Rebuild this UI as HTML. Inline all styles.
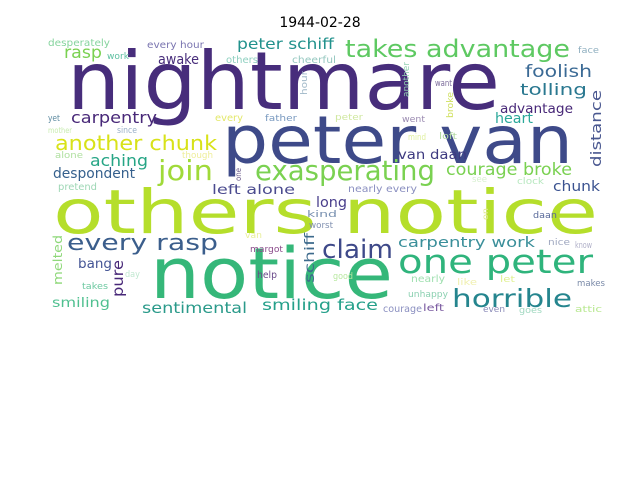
<!DOCTYPE html>
<html><head><meta charset="utf-8"><style>
html,body{margin:0;padding:0;background:#fff;}
svg{display:block;}
text{font-family:"DejaVu Sans","Liberation Sans",sans-serif;}
</style></head><body>
<svg width="640" height="480" viewBox="0 0 640 480">
<rect x="0" y="0" width="640" height="480" fill="#fff"/>
<text x="320" y="27" text-anchor="middle" font-size="14" fill="#000">1944-02-28</text>
<g lengthAdjust="spacingAndGlyphs">
<text x="67" y="109" font-size="80" textLength="433" lengthAdjust="spacingAndGlyphs" fill="#472d7b">nightmare</text>
<text x="222" y="163" font-size="66" textLength="351" lengthAdjust="spacingAndGlyphs" fill="#3e4a89">peter van</text>
<text x="53" y="233" font-size="61" textLength="545" lengthAdjust="spacingAndGlyphs" fill="#b5de2b">others notice</text>
<text x="150" y="298" font-size="70" textLength="243" lengthAdjust="spacingAndGlyphs" fill="#35b779">notice</text>
<text x="345" y="57" font-size="24" textLength="225" lengthAdjust="spacingAndGlyphs" fill="#5ec962">takes advantage</text>
<text x="158" y="180" font-size="28" textLength="55" lengthAdjust="spacingAndGlyphs" fill="#a0da39">join</text>
<text x="255" y="180" font-size="28" textLength="180" lengthAdjust="spacingAndGlyphs" fill="#7ad151">exasperating</text>
<text x="55" y="150" font-size="20" textLength="162" lengthAdjust="spacingAndGlyphs" fill="#d8e219">another chunk</text>
<text x="67" y="250" font-size="22" textLength="151" lengthAdjust="spacingAndGlyphs" fill="#3b5e8c">every rasp</text>
<text x="322" y="258" font-size="26" textLength="71" lengthAdjust="spacingAndGlyphs" fill="#3e4989">claim</text>
<text x="398" y="273" font-size="33" textLength="195" lengthAdjust="spacingAndGlyphs" fill="#2fb47c">one peter</text>
<text x="452" y="307" font-size="25" textLength="120" lengthAdjust="spacingAndGlyphs" fill="#25858e">horrible</text>
<text x="71" y="123" font-size="16" textLength="86" lengthAdjust="spacingAndGlyphs" fill="#482878">carpentry</text>
<text x="90" y="166" font-size="16" textLength="58" lengthAdjust="spacingAndGlyphs" fill="#26a585">aching</text>
<text x="53" y="178" font-size="14" textLength="82" lengthAdjust="spacingAndGlyphs" fill="#35608d">despondent</text>
<text x="64" y="58" font-size="17" textLength="38" lengthAdjust="spacingAndGlyphs" fill="#7ad151">rasp</text>
<text x="237" y="49" font-size="15" textLength="97" lengthAdjust="spacingAndGlyphs" fill="#21918c">peter schiff</text>
<text x="158" y="64" font-size="14" textLength="41" lengthAdjust="spacingAndGlyphs" fill="#472c7a">awake</text>
<text x="147" y="48" font-size="10" textLength="57" lengthAdjust="spacingAndGlyphs" fill="#7a75b0">every hour</text>
<text x="48" y="46" font-size="10" textLength="62" lengthAdjust="spacingAndGlyphs" fill="#86d49e">desperately</text>
<text x="107" y="59" font-size="9" textLength="22" lengthAdjust="spacingAndGlyphs" fill="#5cbfa0">work</text>
<text x="226" y="63" font-size="10" textLength="32" lengthAdjust="spacingAndGlyphs" fill="#8fd0c0">others</text>
<text x="292" y="63" font-size="10" textLength="44" lengthAdjust="spacingAndGlyphs" fill="#96c8c0">cheerful</text>
<text x="48" y="121" font-size="9" textLength="12" lengthAdjust="spacingAndGlyphs" fill="#5c8aa0">yet</text>
<text x="215" y="121" font-size="10" textLength="28" lengthAdjust="spacingAndGlyphs" fill="#e3e86a">every</text>
<text x="265" y="121" font-size="9" textLength="32" lengthAdjust="spacingAndGlyphs" fill="#7a9ac0">father</text>
<text x="48" y="133" font-size="8" textLength="24" lengthAdjust="spacingAndGlyphs" fill="#c8ecb0">mother</text>
<text x="117" y="133" font-size="9" textLength="20" lengthAdjust="spacingAndGlyphs" fill="#9ab0c8">since</text>
<text x="55" y="158" font-size="9" textLength="28" lengthAdjust="spacingAndGlyphs" fill="#b0e0a0">alone</text>
<text x="182" y="158" font-size="9" textLength="31" lengthAdjust="spacingAndGlyphs" fill="#eeee9a">though</text>
<text x="58" y="190" font-size="10" textLength="39" lengthAdjust="spacingAndGlyphs" fill="#9ed7b5">pretend</text>
<text x="212" y="194" font-size="13" textLength="83" lengthAdjust="spacingAndGlyphs" fill="#4b4b8f">left alone</text>
<text x="316" y="207" font-size="14" textLength="31" lengthAdjust="spacingAndGlyphs" fill="#483d8b">long</text>
<text x="307" y="217" font-size="9" textLength="30" lengthAdjust="spacingAndGlyphs" fill="#7890b0">kind</text>
<text x="309" y="228" font-size="9" textLength="24" lengthAdjust="spacingAndGlyphs" fill="#8090b0">worst</text>
<text x="245" y="238" font-size="9" textLength="17" lengthAdjust="spacingAndGlyphs" fill="#e8ef9a">van</text>
<text x="250" y="252" font-size="9" textLength="33" lengthAdjust="spacingAndGlyphs" fill="#8a4a8a">margot</text>
<text x="78" y="268" font-size="13" textLength="34" lengthAdjust="spacingAndGlyphs" fill="#445595">bang</text>
<text x="125" y="277" font-size="9" textLength="15" lengthAdjust="spacingAndGlyphs" fill="#c0e8d0">day</text>
<text x="257" y="278" font-size="10" textLength="20" lengthAdjust="spacingAndGlyphs" fill="#6a4a8a">help</text>
<text x="82" y="289" font-size="9" textLength="26" lengthAdjust="spacingAndGlyphs" fill="#6cc8a0">takes</text>
<text x="52" y="307" font-size="13" textLength="58" lengthAdjust="spacingAndGlyphs" fill="#50c090">smiling</text>
<text x="142" y="313" font-size="15" textLength="105" lengthAdjust="spacingAndGlyphs" fill="#2a9a8a">sentimental</text>
<text x="262" y="310" font-size="15" textLength="116" lengthAdjust="spacingAndGlyphs" fill="#25a08a">smiling face</text>
<text x="348" y="192" font-size="10" textLength="69" lengthAdjust="spacingAndGlyphs" fill="#8a8fc0">nearly every</text>
<text x="553" y="191" font-size="14" textLength="47" lengthAdjust="spacingAndGlyphs" fill="#3a5290">chunk</text>
<text x="533" y="218" font-size="9" textLength="24" lengthAdjust="spacingAndGlyphs" fill="#5a6a9a">daan</text>
<text x="398" y="247" font-size="14" textLength="137" lengthAdjust="spacingAndGlyphs" fill="#3a8f9a">carpentry work</text>
<text x="548" y="245" font-size="9" textLength="22" lengthAdjust="spacingAndGlyphs" fill="#a0a8c0">nice</text>
<text x="575" y="248" font-size="9" textLength="17" lengthAdjust="spacingAndGlyphs" fill="#b0b0c8">know</text>
<text x="333" y="279" font-size="9" textLength="20" lengthAdjust="spacingAndGlyphs" fill="#b8e8a0">good</text>
<text x="411" y="282" font-size="10" textLength="34" lengthAdjust="spacingAndGlyphs" fill="#a0e0b0">nearly</text>
<text x="457" y="285" font-size="9" textLength="20" lengthAdjust="spacingAndGlyphs" fill="#f0f0b0">like</text>
<text x="500" y="282" font-size="9" textLength="15" lengthAdjust="spacingAndGlyphs" fill="#e0f090">let</text>
<text x="577" y="286" font-size="9" textLength="28" lengthAdjust="spacingAndGlyphs" fill="#7a8aa8">makes</text>
<text x="408" y="297" font-size="9" textLength="40" lengthAdjust="spacingAndGlyphs" fill="#8ad0b0">unhappy</text>
<text x="383" y="312" font-size="10" textLength="39" lengthAdjust="spacingAndGlyphs" fill="#8a8fc0">courage</text>
<text x="423" y="311" font-size="10" textLength="21" lengthAdjust="spacingAndGlyphs" fill="#7a5aa0">left</text>
<text x="483" y="312" font-size="9" textLength="22" lengthAdjust="spacingAndGlyphs" fill="#8a8ab8">even</text>
<text x="519" y="313" font-size="9" textLength="23" lengthAdjust="spacingAndGlyphs" fill="#a0d8c0">goes</text>
<text x="575" y="312" font-size="9" textLength="27" lengthAdjust="spacingAndGlyphs" fill="#b8e890">attic</text>
<text x="578" y="53" font-size="9" textLength="21" lengthAdjust="spacingAndGlyphs" fill="#90b0c0">face</text>
<text x="525" y="77" font-size="17" textLength="67" lengthAdjust="spacingAndGlyphs" fill="#3b6a95">foolish</text>
<text x="520" y="95" font-size="16" textLength="67" lengthAdjust="spacingAndGlyphs" fill="#2a7890">tolling</text>
<text x="500" y="113" font-size="13" textLength="73" lengthAdjust="spacingAndGlyphs" fill="#482878">advantage</text>
<text x="495" y="123" font-size="14" textLength="38" lengthAdjust="spacingAndGlyphs" fill="#2aa89a">heart</text>
<text x="435" y="86" font-size="9" textLength="17" lengthAdjust="spacingAndGlyphs" fill="#7a6a9a">want</text>
<text x="335" y="120" font-size="9" textLength="28" lengthAdjust="spacingAndGlyphs" fill="#d0e8a0">peter</text>
<text x="402" y="122" font-size="9" textLength="23" lengthAdjust="spacingAndGlyphs" fill="#9a8ab0">went</text>
<text x="408" y="140" font-size="9" textLength="18" lengthAdjust="spacingAndGlyphs" fill="#e0f0a0">mind</text>
<text x="439" y="139" font-size="9" textLength="18" lengthAdjust="spacingAndGlyphs" fill="#b0d8a0">loft</text>
<text x="398" y="159" font-size="13" textLength="69" lengthAdjust="spacingAndGlyphs" fill="#3e3a80">van daan</text>
<text x="446" y="175" font-size="17" textLength="126" lengthAdjust="spacingAndGlyphs" fill="#7ad151">courage broke</text>
<text x="472" y="182" font-size="9" textLength="15" lengthAdjust="spacingAndGlyphs" fill="#d8f0d0">see</text>
<text x="517" y="184" font-size="9" textLength="27" lengthAdjust="spacingAndGlyphs" fill="#b8e8c0">clock</text>
<text transform="translate(601,167) rotate(-90)" font-size="14" textLength="77" lengthAdjust="spacingAndGlyphs" fill="#4a5890">distance</text>
<text transform="translate(307,95) rotate(-90)" font-size="9" textLength="24" lengthAdjust="spacingAndGlyphs" fill="#a0b8c8">hour</text>
<text transform="translate(241,181) rotate(-90)" font-size="8" textLength="13" lengthAdjust="spacingAndGlyphs" fill="#6a5a8a">one</text>
<text transform="translate(314,283) rotate(-90)" font-size="13" textLength="50" lengthAdjust="spacingAndGlyphs" fill="#3d6a8c">schiff</text>
<text transform="translate(62,285) rotate(-90)" font-size="12" textLength="50" lengthAdjust="spacingAndGlyphs" fill="#8fd87a">melted</text>
<text transform="translate(123,297) rotate(-90)" font-size="15" textLength="37" lengthAdjust="spacingAndGlyphs" fill="#482878">pure</text>
<text transform="translate(409,97) rotate(-90)" font-size="9" textLength="35" lengthAdjust="spacingAndGlyphs" fill="#90d0b0">another</text>
<text transform="translate(453,118) rotate(-90)" font-size="9" textLength="26" lengthAdjust="spacingAndGlyphs" fill="#d0e060">broke</text>
<text transform="translate(488,220) rotate(-90)" font-size="8" textLength="12" lengthAdjust="spacingAndGlyphs" fill="#e0e890">on</text>
</g>
</svg>
</body></html>
